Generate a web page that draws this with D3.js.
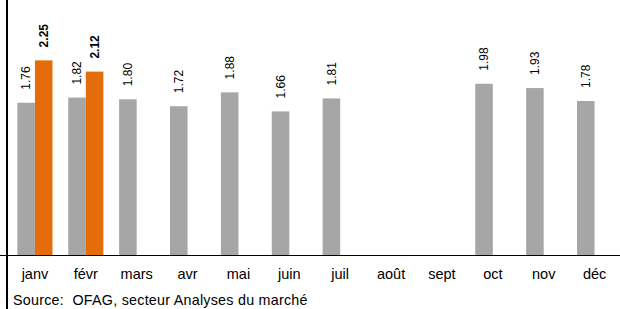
<!DOCTYPE html>
<html>
<head>
<meta charset="utf-8">
<script src="https://cdn.jsdelivr.net/npm/d3@7"></script>
<style>
  html, body { margin: 0; padding: 0; background: #fff; }
  svg { display: block; font-family: "Liberation Sans", Arial, sans-serif; }
</style>
</head>
<body>
<svg id="chart"></svg>
<script>
// months + the two series (second one only for janv/févr)
const months = ["janv", "févr", "mars", "avr", "mai", "juin", "juil", "août", "sept", "oct", "nov", "déc"];
const prev = [1.76, 1.82, 1.80, 1.72, 1.88, 1.66, 1.81, null, null, 1.98, 1.93, 1.78];
const curr = [2.25, 2.12, null, null, null, null, null, null, null, null, null, null];
const source = "Source:  OFAG, secteur Analyses du marché";

const width = 620, height = 309;
const baseY = 255;
const colors = ["#A6A6A6", "#E46C0A"];

const svg = d3.select("#chart")
  .attr("width", width)
  .attr("height", height)
  .attr("viewBox", [0, 0, width, height]);

const x = d3.scaleBand().domain(months).range([9.5, 620]).paddingInner(0.31).paddingOuter(0.155);
const xs = d3.scaleBand().domain([0, 1]).range([0, x.bandwidth()]);
const y = d3.scaleLinear().domain([0, 3]).range([baseY, baseY - 3 * 86.5]);

const series = [prev, curr];

series.forEach((vals, s) => {
  const I = d3.range(vals.length).filter(i => vals[i] != null);
  const g = svg.append("g");
  g.selectAll("rect")
    .data(I)
    .join("rect")
      .attr("x", i => x(months[i]) + xs(s))
      .attr("y", i => y(vals[i]))
      .attr("width", xs.bandwidth())
      .attr("height", i => y(0) - y(vals[i]))
      .attr("fill", colors[s]);

  // vertical value labels
  g.selectAll("text")
    .data(I)
    .join("text")
      .attr("transform", i => `translate(${x(months[i]) + xs(s) + xs.bandwidth() / 2},${y(vals[i]) - 13}) rotate(-90)`)
      .attr("dy", "0.35em")
      .attr("text-anchor", "start")
      .style("font-size", "12px")
      .style("font-weight", s === 1 ? "bold" : "normal")
      .attr("fill", "#000")
      .text(i => vals[i].toFixed(2));
});

// x axis: baseline + month labels
const xAxis = d3.axisBottom(x).tickSize(0).tickPadding(13.5);
svg.append("g")
  .attr("transform", `translate(0,${baseY})`)
  .call(xAxis)
  .call(g => g.select(".domain").remove())
  .call(g => g.selectAll("text").style("font-size", "14.5px").attr("fill", "#000").attr("font-family", null));

svg.append("line")
  .attr("x1", 0).attr("x2", width)
  .attr("y1", baseY + 0.5).attr("y2", baseY + 0.5)
  .attr("stroke", "#000");

// left axis line
svg.append("line")
  .attr("x1", 7).attr("x2", 7)
  .attr("y1", 0).attr("y2", height)
  .attr("stroke", "#000")
  .attr("stroke-width", 2);

svg.append("text")
  .attr("x", 13)
  .attr("y", 304.5)
  .attr("xml:space", "preserve")
  .style("font-size", "14.3px")
  .style("letter-spacing", "0.25px")
  .attr("fill", "#000")
  .text(source);
</script>
</body>
</html>
